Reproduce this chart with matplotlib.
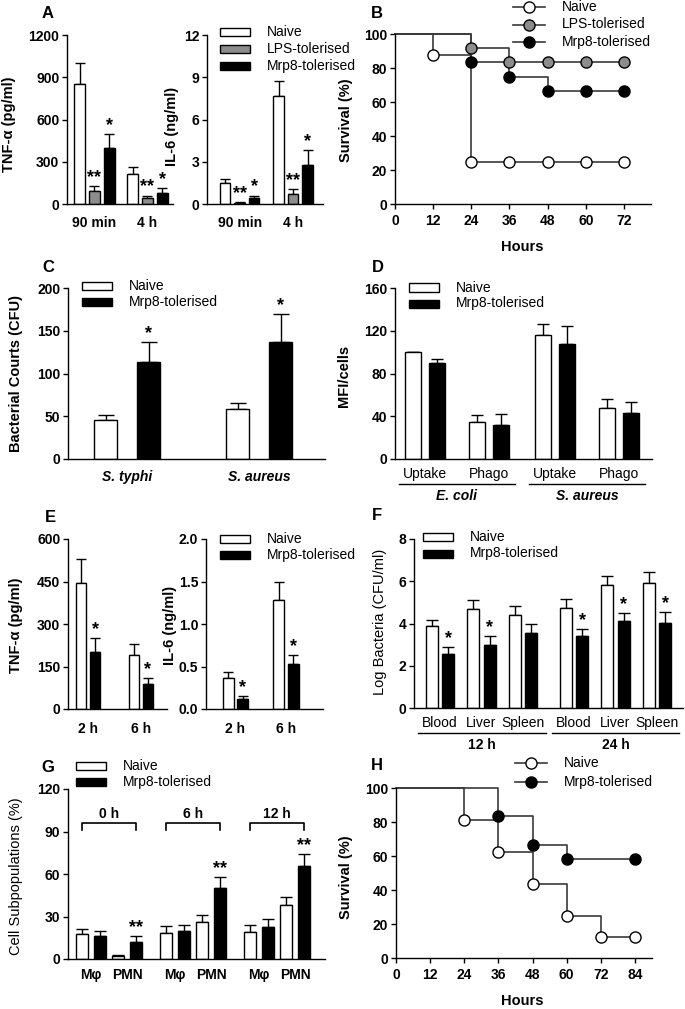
import numpy as np
import matplotlib
matplotlib.use("Agg")
from matplotlib import pyplot as plt
from matplotlib.patches import Rectangle
from matplotlib.lines import Line2D

plt.rcParams['font.family'] = ['Liberation Sans', 'DejaVu Sans']
plt.rcParams['font.size'] = 10

W, H = 685, 1009
GREY = "#8c8c8c"
LINE = "#3a3a3a"

# ---------------- data ----------------
# A: cytokines, groups x (naive, LPS, Mrp8)
a_groups = ["90 min", "4 h"]
a_tnf = [[850, 95, 400], [210, 40, 75]]
a_tnf_err = [[150, 30, 95], [50, 20, 40]]
a_il6 = [[1.5, 0.1, 0.4], [7.7, 0.7, 2.8]]
a_il6_err = [[0.25, 0.05, 0.2], [1.0, 0.35, 1.0]]
a_sig = [["", "**", "*"], ["", "**", "*"]]

# B: survival
b_naive_t = [0, 12, 24, 36, 48, 60, 72]
b_naive_s = [100, 87.5, 25, 25, 25, 25, 25]
b_lps_t = [0, 24, 36, 48, 60, 72]
b_lps_s = [100, 91.7, 83.3, 83.3, 83.3, 83.3]
b_mrp8_t = [0, 24, 36, 48, 60, 72]
b_mrp8_s = [100, 83.3, 75, 66.7, 66.7, 66.7]

# C: bacterial counts (naive, Mrp8)
c_groups = ["S. typhi", "S. aureus"]
c_vals = [[46, 113], [58, 137]]
c_err = [[5, 24], [7, 33]]
c_sig = [["", "*"], ["", "*"]]

# D: MFI
d_assays = ["Uptake", "Phago", "Uptake", "Phago"]
d_species = ["E. coli", "S. aureus"]
d_vals = [[100, 90], [35, 32], [116, 108], [48, 43]]
d_err = [[0.5, 4], [6.5, 10], [10, 16], [8.5, 10.5]]

# E: cytokines (naive, Mrp8)
e_groups = ["2 h", "6 h"]
e_tnf = [[445, 200], [190, 88]]
e_tnf_err = [[85, 50], [40, 20]]
e_il6 = [[0.36, 0.12], [1.28, 0.53]]
e_il6_err = [[0.08, 0.03], [0.21, 0.11]]
e_sig = [["", "*"], ["", "*"]]

# F: log bacteria
f_organs = ["Blood", "Liver", "Spleen", "Blood", "Liver", "Spleen"]
f_times = ["12 h", "24 h"]
f_vals = [[3.88, 2.55], [4.68, 3.0], [4.4, 3.55], [4.75, 3.4], [5.8, 4.1], [5.9, 4.02]]
f_err = [[0.3, 0.35], [0.42, 0.4], [0.42, 0.45], [0.42, 0.35], [0.45, 0.4], [0.52, 0.51]]
f_sig = [["", "*"], ["", "*"], ["", ""], ["", "*"], ["", "*"], ["", "*"]]

# G: cell subpopulations
g_times = ["0 h", "6 h", "12 h"]
g_cells = ["M\u03c6", "PMN"] * 3
g_vals = [[17.5, 16], [2, 12], [18.5, 19.5], [26, 50], [19, 22.5], [38, 66]]
g_err = [[3.5, 3.5], [0.5, 4], [4.5, 4.5], [5, 8], [5, 5.5], [6, 8]]
g_sig = [["", ""], ["", "**"], ["", ""], ["", "**"], ["", ""], ["", "**"]]

# H: survival
h_naive_t = [0, 24, 36, 48, 60, 72, 84]
h_naive_s = [100, 81.25, 62.5, 43.75, 25, 12.5, 12.5]
h_mrp8_t = [0, 36, 48, 60, 84]
h_mrp8_s = [100, 83.3, 66.7, 58.3, 58.3]

leg3 = ["Naive", "LPS-tolerised", "Mrp8-tolerised"]
leg2 = ["Naive", "Mrp8-tolerised"]
col3 = ["white", GREY, "black"]
col2 = ["white", "black"]

fig = plt.figure(figsize=(6.85, 10.09), dpi=100)


def fx(x):
    return x / W


def fy(y):
    return 1 - y / H


def add_ax(x0, x1, y0, y1):
    ax = fig.add_axes([fx(x0), fy(y1), (x1 - x0) / W, (y1 - y0) / H])
    ax.set_xlim(0, x1 - x0)
    for s in ('top', 'right'):
        ax.spines[s].set_visible(False)
    for s in ('left', 'bottom'):
        ax.spines[s].set_linewidth(1.0)
    return ax


def yaxis(ax, ticks, labels):
    ax.set_ylim(ticks[0], ticks[-1])
    ax.set_yticks(ticks, labels, fontweight='bold', fontsize=10)
    ax.tick_params(axis='y', direction='out', length=3.5, width=1, pad=2)


def layout(n, nb, first, step, pitch, gap=0.0, per=1):
    k = np.arange(n)
    start = first + pitch * k + gap * (k // per)
    return start[:, None] + step * np.arange(nb)[None, :]


def bars(ax, vals, errs, colors, pos, width, cap, sig=None, sig_size=13):
    vals = np.asarray(vals, float)
    errs = np.asarray(errs, float)
    for i in range(vals.shape[1]):
        ax.bar(pos[:, i], vals[:, i], width, color=colors[i], edgecolor='black',
               linewidth=1, zorder=2)
        ax.errorbar(pos[:, i], vals[:, i], yerr=[np.zeros(len(vals)), errs[:, i]],
                    fmt='none', ecolor='black', elinewidth=1, capsize=cap,
                    capthick=1, zorder=1)
    if sig is not None:
        for g in range(vals.shape[0]):
            for i in range(vals.shape[1]):
                if sig[g][i]:
                    ax.annotate(sig[g][i], (pos[g, i], vals[g, i] + errs[g, i]),
                                xytext=(0, 0), textcoords='offset points',
                                ha='center', va='bottom', fontsize=sig_size,
                                fontweight='bold')
    ax.set_xticks([])


def below(ax, x, dpx, s, **kw):
    h = ax.bbox.height
    ax.text(x, -dpx / h, s, transform=ax.get_xaxis_transform(), ha='center',
            va='center', clip_on=False, fontsize=10, **kw)


def underline(ax, x0, x1, dpx):
    h = ax.bbox.height
    ax.plot([x0, x1], [-dpx / h] * 2, transform=ax.get_xaxis_transform(),
            color='black', lw=1, clip_on=False)


def ylab(x, y, s, bold=True):
    fig.text(fx(x), fy(y), s, rotation=90, ha='center', va='center', fontsize=10.5,
             fontweight='bold' if bold else 'normal')


def letter(x, y, s):
    fig.text(fx(x), fy(y), s, ha='center', va='center', fontsize=12, fontweight='bold')


def bar_key(x, y, labels, colors, dy):
    for k, (lab, c) in enumerate(zip(labels, colors)):
        yc = y + k * dy
        fig.add_artist(Rectangle((fx(x), fy(yc + 4)), 30 / W, 8 / H, facecolor=c,
                                 edgecolor='black', lw=1))
        fig.text(fx(x + 47), fy(yc), lab, ha='left', va='center', fontsize=10)


def line_key(x, y, labels, faces, dy):
    for k, (lab, fc) in enumerate(zip(labels, faces)):
        yc = y + k * dy
        fig.add_artist(Line2D([fx(x - 16), fx(x + 16)], [fy(yc)] * 2, color=LINE, lw=1.2))
        fig.add_artist(Line2D([fx(x)], [fy(yc)], marker='o', ms=8, mfc=fc, mec='black', mew=1))
        fig.text(fx(x + 33), fy(yc), lab, ha='left', va='center', fontsize=10)


def survival(ax, curves, xmax, ticks):
    ax.set_xlim(0, xmax)
    for t, s, fc in curves:
        ax.step(t, s, where='post', color=LINE, lw=1.2, clip_on=False, zorder=2)
    for t, s, fc in curves:
        ax.plot(t[1:], s[1:], 'o', ms=8, mfc=fc, mec='black', mew=1, zorder=3, clip_on=False)
    ax.set_xticks(ticks, [str(v) for v in ticks], fontweight='bold', fontsize=10)
    ax.tick_params(axis='x', direction='out', length=3.5, width=1, pad=4)


# ---------------- A ----------------
ax = add_ax(67, 173, 35, 204)
yaxis(ax, [0, 300, 600, 900, 1200], ["0", "300", "600", "900", "1200"])
pos = layout(2, 3, 12.5, 14.8, 53)
bars(ax, a_tnf, a_tnf_err, col3, pos, 11, 3.5, a_sig)
for g, lab in enumerate(a_groups):
    below(ax, pos[g].mean(), 19, lab, fontweight='bold')
ylab(9, 124, "TNF-\u03b1 (pg/ml)")

ax = add_ax(207, 323, 35, 204)
yaxis(ax, [0, 3, 6, 9, 12], ["0", "3", "6", "9", "12"])
pos = layout(2, 3, 18, 14.6, 53.5)
bars(ax, a_il6, a_il6_err, col3, pos, 10.5, 3.5, a_sig)
for g, lab in enumerate(a_groups):
    below(ax, pos[g].mean(), 19, lab, fontweight='bold')
ylab(172, 126, "IL-6 (ng/ml)")
bar_key(220, 32, leg3, col3, 17)
letter(48, 14, "A")

# ---------------- B ----------------
ax = add_ax(395, 651, 34, 204)
yaxis(ax, [0, 20, 40, 60, 80, 100], ["0", "20", "40", "60", "80", "100"])
survival(ax, [(b_naive_t, b_naive_s, "white"), (b_lps_t, b_lps_s, GREY),
              (b_mrp8_t, b_mrp8_s, "black")], 80.5, [0, 12, 24, 36, 48, 60, 72])
fig.text(fx(522), fy(247), "Hours", ha='center', va='center', fontsize=10.5, fontweight='bold')
ylab(346, 120, "Survival (%)")
line_key(529, 7, leg3, ["white", GREY, "black"], 17.5)
letter(377, 13, "B")

# ---------------- C ----------------
ax = add_ax(68, 325, 288, 459)
yaxis(ax, [0, 50, 100, 150, 200], ["0", "50", "100", "150", "200"])
pos = layout(2, 2, 37.5, 43, 132)
bars(ax, c_vals, c_err, col2, pos, 23, 6, c_sig)
for g, lab in enumerate(c_groups):
    below(ax, pos[g].mean(), 18, lab, fontweight='bold', style='italic')
ylab(16, 373, "Bacterial Courts (CFU)")
bar_key(82, 286, leg2, col2, 16)
letter(48, 267, "C")

# ---------------- D ----------------
ax = add_ax(395, 652, 288, 459)
yaxis(ax, [0, 40, 80, 120, 160], ["0", "40", "80", "120", "160"])
pos = layout(4, 2, 18.25, 23.5, 64, 2, 2)
bars(ax, d_vals, d_err, col2, pos, 16, 4.5)
for g, lab in enumerate(d_assays):
    below(ax, pos[g].mean(), 15, lab)
for s, lab in enumerate(d_species):
    xc = pos[2 * s:2 * s + 2].mean()
    underline(ax, xc - 58, xc + 58, 25)
    below(ax, xc, 37, lab, fontweight='bold', style='italic')
ylab(344, 376, "MFI/cells")
bar_key(409, 287.5, leg2, col2, 16)
letter(378, 267, "D")

# ---------------- E ----------------
ax = add_ax(68, 167, 539, 709)
yaxis(ax, [0, 150, 300, 450, 600], ["0", "150", "300", "450", "600"])
pos = layout(2, 2, 13, 14, 53)
bars(ax, e_tnf, e_tnf_err, col2, pos, 10, 3.5, e_sig)
for g, lab in enumerate(e_groups):
    below(ax, pos[g].mean(), 20, lab, fontweight='bold')
ylab(16, 625, "TNF-\u03b1 (pg/ml)")

ax = add_ax(206, 323, 539, 709)
yaxis(ax, [0, 0.5, 1.0, 1.5, 2.0], ["0.0", "0.5", "1.0", "1.5", "2.0"])
pos = layout(2, 2, 22, 14.5, 50.5)
bars(ax, e_il6, e_il6_err, col2, pos, 11, 3.5, e_sig)
for g, lab in enumerate(e_groups):
    below(ax, pos[g].mean(), 20, lab, fontweight='bold')
ylab(170, 625, "IL-6 (ng/ml)")
bar_key(220, 539, leg2, col2, 15.5)
letter(50, 517, "E")

# ---------------- F ----------------
ax = add_ax(414, 683, 539, 708)
yaxis(ax, [0, 2, 4, 6, 8], ["0", "2", "4", "6", "8"])
pos = layout(6, 2, 17.75, 16.5, 41.5, 9.5, 3)
bars(ax, f_vals, f_err, col2, pos, 12, 4, f_sig)
for g, lab in enumerate(f_organs):
    below(ax, pos[g].mean(), 15, lab)
for s, lab in enumerate(f_times):
    xc = pos[3 * s:3 * s + 3].mean()
    underline(ax, xc - 64, xc + 64, 25)
    below(ax, xc, 37, lab, fontweight='bold')
ylab(380, 622, "Log Bacteria (CFU/ml)", bold=False)
bar_key(423, 537, leg2, col2, 16.5)
letter(377, 516, "F")

# ---------------- G ----------------
ax = add_ax(68, 325, 789, 959)
yaxis(ax, [0, 30, 60, 90, 120], ["0", "30", "60", "90", "120"])
pos = layout(6, 2, 14, 18, 36, 12, 2)
bars(ax, g_vals, g_err, col2, pos, 12, 4, g_sig)
for g, lab in enumerate(g_cells):
    below(ax, pos[g].mean(), 16, lab, fontweight='bold')
for t, lab in enumerate(g_times):
    x0, x1 = pos[2 * t, 0], pos[2 * t + 1, 1]
    ax.plot([x0, x0, x1, x1], [91, 96, 96, 91], color='black', lw=1.2, clip_on=False)
    ax.text((x0 + x1) / 2, 102, lab, ha='center', va='center', fontsize=10, fontweight='bold')
ylab(16, 876, "Cell Subpopulations (%)", bold=False)
bar_key(76, 766, leg2, col2, 16)
letter(48, 767, "G")

# ---------------- H ----------------
ax = add_ax(396, 652, 788, 958)
yaxis(ax, [0, 20, 40, 60, 80, 100], ["0", "20", "40", "60", "80", "100"])
survival(ax, [(h_naive_t, h_naive_s, "white"), (h_mrp8_t, h_mrp8_s, "black")],
         90, [0, 12, 24, 36, 48, 60, 72, 84])
fig.text(fx(522), fy(1001), "Hours", ha='center', va='center', fontsize=10.5, fontweight='bold')
ylab(346, 877, "Survival (%)")
line_key(531, 763, leg2, ["white", "black"], 19)
letter(377, 765, "H")

fig.savefig("out.png", dpi=100)
